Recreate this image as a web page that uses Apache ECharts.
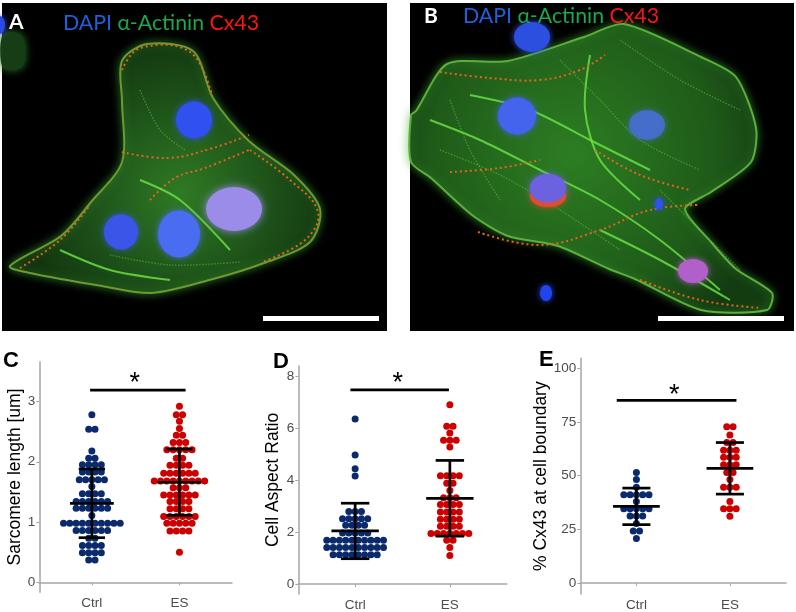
<!DOCTYPE html>
<html>
<head>
<meta charset="utf-8">
<script src="https://cdn.jsdelivr.net/npm/echarts@6/dist/echarts.min.js"></script>
<style>
  html, body { margin: 0; padding: 0; background: #fff; }
  #main { width: 796px; height: 612px; }
</style>
</head>
<body>
<div id="main"></div>
<script>
"use strict"
const groups = ['Ctrl', 'ES'];

// C: sarcomere length, dot rows (value) and dots per row
const sarcCtrlRows   = [2.78, 2.54, 2.18, 2.06, 1.95, 1.83, 1.70, 1.59, 1.47, 1.34, 1.23, 1.11, 0.98, 0.86, 0.73, 0.61, 0.49, 0.37];
const sarcCtrlCounts = [1, 2, 1, 2, 4, 4, 5, 1, 4, 6, 6, 1, 10, 6, 2, 4, 4, 2];
const sarcEsRows     = [2.92, 2.78, 2.67, 2.55, 2.44, 2.32, 2.20, 2.06, 1.94, 1.81, 1.68, 1.57, 1.45, 1.34, 1.22, 1.09, 0.98, 0.85, 0.50];
const sarcEsCounts   = [1, 2, 1, 1, 2, 3, 5, 2, 4, 6, 9, 3, 6, 4, 4, 6, 5, 4, 1];
const sarcMean = [1.31, 1.66];
const sarcSd   = [0.57, 0.55];

// D: cell aspect ratio
const aspectCtrlRows   = [6.37, 4.98, 4.45, 4.17, 2.80, 2.52, 2.27, 1.97, 1.69, 1.41, 1.13];
const aspectCtrlCounts = [1, 1, 1, 1, 3, 5, 4, 5, 10, 10, 8];
const aspectEsRows     = [6.92, 6.09, 5.83, 5.55, 5.29, 4.18, 3.89, 3.61, 3.33, 3.07, 2.78, 2.50, 2.23, 1.95, 1.69, 1.41, 1.10];
const aspectEsCounts   = [1, 2, 1, 3, 1, 4, 2, 1, 3, 4, 4, 4, 4, 7, 2, 1, 1];
const aspectMean = [2.05, 3.31];
const aspectSd   = [1.07, 1.46];

// E: % Cx43 at cell boundary
const cxCtrlRows   = [51.5, 48.2, 44.6, 41.1, 38.0, 34.6, 31.2, 27.7, 24.2, 20.8];
const cxCtrlCounts = [1, 1, 1, 5, 1, 5, 3, 1, 2, 1];
const cxEsRows     = [72.8, 68.9, 65.4, 61.8, 58.5, 55.1, 51.5, 48.2, 44.6, 38.0, 34.6, 31.1];
const cxEsCounts   = [2, 1, 2, 3, 3, 3, 2, 1, 3, 1, 3, 1];
const cxMean = [35.7, 53.4];
const cxSd   = [8.5, 12.0];

// y ticks and significance bars (C, D, E)
const sarcTicks   = [0, 1, 2, 3];
const aspectTicks = [0, 2, 4, 6, 8];
const cxTicks     = [0, 25, 50, 75, 100];
const sigLevel = [3.19, 7.49, 85.0];
const sigFrom  = [0.98, 0.95, 0.79];
const sigTo    = [2.07, 1.99, 2.07];
const starLevel = [3.39, 7.97, 90.0];
const starX     = [1.49, 1.45, 1.405];

const ctrlColor = '#0b2a6c';
const esColor = '#cc0000';
const axisGrey = '#a6a6a6';
const dotStep = 6.3; // px between dot centres in a row

const panels = [
    {name: 'Sarcomere length [um]', rows: [sarcCtrlRows, sarcEsRows], counts: [sarcCtrlCounts, sarcEsCounts],
     mean: sarcMean, sd: sarcSd, ticks: sarcTicks, min: -0.166, max: 3.66, gap: 14,
     grid: {left: 39.3, top: 361.7, width: 192.7, height: 230.6}},
    {name: 'Cell Aspect Ratio', rows: [aspectCtrlRows, aspectEsRows], counts: [aspectCtrlCounts, aspectEsCounts],
     mean: aspectMean, sd: aspectSd, ticks: aspectTicks, min: -0.38, max: 8.41, gap: 16.5,
     grid: {left: 298.3, top: 366, width: 208.4, height: 230}},
    {name: '% Cx43 at cell boundary', rows: [cxCtrlRows, cxEsRows], counts: [cxCtrlCounts, cxEsCounts],
     mean: cxMean, sd: cxSd, ticks: cxTicks, min: -5.08, max: 104.6, gap: 24,
     grid: {left: 580.3, top: 358.3, width: 205.7, height: 237.7}}
];

// centred dot stacks (like geom_dotplot stackdir = "center")
function swarm(rows, counts, g, pxPerUnit) {
    let pts = [];
    rows.forEach(function (v, r) {
        let n = counts[r];
        for (let i = 0; i < n; i++) {
            pts.push([g + 1 + (i - (n - 1) / 2) * dotStep / pxPerUnit, v]);
        }
    });
    return pts;
}

function renderErr(params, api) {
    let x = api.value(0), m = api.value(1), s = api.value(2);
    let style = {stroke: '#000', lineWidth: 2.7};
    let seg = function (a, b) {
        return {type: 'line', shape: {x1: a[0], y1: a[1], x2: b[0], y2: b[1]}, style: style};
    };
    return {type: 'group', children: [
        seg(api.coord([x, m + s]), api.coord([x, m - s])),
        seg(api.coord([x - 0.15, m + s]), api.coord([x + 0.15, m + s])),
        seg(api.coord([x - 0.15, m - s]), api.coord([x + 0.15, m - s])),
        seg(api.coord([x - 0.25, m]), api.coord([x + 0.25, m]))
    ]};
}

function renderSig(params, api) {
    let a = api.coord([api.value(0), api.value(2)]);
    let b = api.coord([api.value(1), api.value(2)]);
    let s = api.coord([api.value(3), api.value(4)]);
    return {type: 'group', children: [
        {type: 'line', shape: {x1: a[0], y1: a[1], x2: b[0], y2: b[1]}, style: {stroke: '#000', lineWidth: 2.7}},
        {type: 'text', style: {text: '*', x: s[0], y: s[1] + 6, align: 'center', verticalAlign: 'middle',
            font: '27px "Liberation Sans", Arial', fill: '#000'}}
    ]};
}

let grids = [], xAxes = [], yAxes = [], series = [];
panels.forEach(function (p, k) {
    grids.push(p.grid);
    xAxes.push({
        type: 'value', gridIndex: k, min: 0.4, max: 2.6,
        axisLine: {show: true, lineStyle: {color: axisGrey, width: 1.5}},
        axisTick: {show: true, length: 3, customValues: [1, 2], lineStyle: {color: axisGrey}},
        axisLabel: {customValues: [1, 2], margin: 4, color: '#4d4d4d', fontSize: 13.5, fontFamily: '"Liberation Sans", Arial',
            formatter: function (v) { return groups[Math.round(v) - 1]; }},
        splitLine: {show: false}
    });
    yAxes.push({
        type: 'value', gridIndex: k, min: p.min, max: p.max,
        name: p.name, nameLocation: 'middle', nameGap: p.gap, nameRotate: 90,
        nameTextStyle: {color: '#000', fontSize: 17.5, fontFamily: '"Liberation Sans", Arial'},
        axisLine: {show: true, lineStyle: {color: axisGrey, width: 1.5}},
        axisTick: {show: true, length: 3, customValues: p.ticks, lineStyle: {color: axisGrey}},
        axisLabel: {customValues: p.ticks, margin: 4, color: '#4d4d4d', fontSize: 13.5, fontFamily: '"Liberation Sans", Arial'},
        splitLine: {show: false}
    });
    let pxPerUnit = p.grid.width / 2.2;
    [0, 1].forEach(function (g) {
        series.push({
            type: 'scatter', xAxisIndex: k, yAxisIndex: k, symbolSize: 7, silent: true,
            itemStyle: {color: g === 0 ? ctrlColor : esColor, opacity: 1},
            data: swarm(p.rows[g], p.counts[g], g, pxPerUnit)
        });
    });
    series.push({
        type: 'custom', xAxisIndex: k, yAxisIndex: k, renderItem: renderErr, z: 5,
        data: [[1, p.mean[0], p.sd[0]], [2, p.mean[1], p.sd[1]]]
    });
    series.push({
        type: 'custom', xAxisIndex: k, yAxisIndex: k, renderItem: renderSig, z: 5,
        data: [[sigFrom[k], sigTo[k], sigLevel[k], starX[k], starLevel[k]]]
    });
});

// micrographs, drawn as a rough sketch
function nucleus(cx, cy, rx, ry, color, blur) {
    return {type: 'circle', x: cx, y: cy, scaleX: rx / ry, shape: {cx: 0, cy: 0, r: ry},
        style: {fill: color, shadowBlur: blur || 6, shadowColor: color}};
}
function boundary(points) {
    return {type: 'polyline', shape: {points: points, smooth: 0.4},
        style: {stroke: '#e8641e', lineWidth: 2, lineDash: [2, 3], fill: null}};
}
function fibre(points, bright) {
    return {type: 'polyline', shape: {points: points, smooth: 0.3},
        style: {stroke: bright ? 'rgba(110,230,70,0.8)' : 'rgba(90,190,60,0.55)', lineWidth: bright ? 2 : 1.4,
            lineDash: bright ? null : [1.5, 1.5], fill: null}};
}
const cellFill = {type: 'radial', x: 0.55, y: 0.6, r: 0.65,
    colorStops: [{offset: 0, color: '#2f7a24'}, {offset: 0.6, color: '#1c4e18'}, {offset: 1, color: '#12330f'}]};
const cellFillB = {type: 'radial', x: 0.45, y: 0.45, r: 0.7,
    colorStops: [{offset: 0, color: '#2c7e22'}, {offset: 0.7, color: '#1f5a19'}, {offset: 1, color: '#143c12'}]};

let micro = [
    {type: 'rect', shape: {x: 2, y: 3, width: 385, height: 328}, style: {fill: '#000'}},
    {type: 'rect', shape: {x: 410, y: 3, width: 384, height: 328}, style: {fill: '#000'}},
    {type: 'polygon', shape: {points: [[3, 34], [22, 36], [23, 66], [3, 68]], smooth: 0.3},
        style: {fill: '#173d14', shadowBlur: 8, shadowColor: '#2d7a25'}},
    {type: 'polygon', shape: {points: [[122, 61], [147, 44], [193, 51], [213, 98], [249, 141], [294, 175], [320, 209],
        [310, 242], [264, 263], [213, 279], [152, 293], [102, 286], [30, 273], [10, 266], [61, 236], [91, 202],
        [122, 162], [122, 101]], smooth: 0.3},
        style: {fill: cellFill, stroke: '#6a9a30', lineWidth: 2, shadowBlur: 10, shadowColor: 'rgba(70,170,60,0.6)'}},
    boundary([[122, 152], [168, 158], [213, 148], [249, 135]]),
    boundary([[150, 200], [175, 178], [205, 168], [249, 150]]),
    boundary([[122, 70], [140, 48], [190, 52], [212, 96]]),
    boundary([[250, 150], [290, 180], [318, 212], [305, 240], [262, 262]]),
    boundary([[20, 268], [60, 240], [90, 205]]),
    fibre([[140, 180], [180, 200], [230, 250]], true),
    fibre([[110, 255], [170, 265], [240, 262]]),
    fibre([[140, 90], [160, 130], [185, 150]]),
    fibre([[60, 250], [110, 270], [170, 280]], true),
    nucleus(194, 120, 18, 18.5, '#3050f0'),
    nucleus(234, 209, 28, 22, '#9a8ce8', 8),
    nucleus(179, 234, 21, 23.5, '#4a6cf0'),
    nucleus(121, 232, 17, 17.5, '#3a55e8'),
    nucleus(0, 25, 5, 9, '#2a4ae0'),
    {type: 'polygon', shape: {points: [[416, 111], [447, 64], [508, 61], [584, 37], [624, 24], [701, 57], [736, 77],
        [756, 128], [751, 162], [711, 192], [685, 209], [711, 242], [736, 269], [772, 293], [767, 310], [701, 310],
        [635, 279], [609, 269], [558, 246], [508, 236], [472, 215], [431, 178], [411, 162], [411, 115]], smooth: 0.25},
        style: {fill: cellFillB, stroke: '#5cb03a', lineWidth: 2, shadowBlur: 10, shadowColor: 'rgba(70,180,60,0.6)'}},
    fibre([[430, 120], [480, 140], [540, 170], [600, 200], [660, 240], [720, 290]], true),
    fibre([[440, 150], [500, 175], [560, 210], [620, 250]]),
    fibre([[470, 95], [530, 110], [590, 140], [650, 170]], true),
    fibre([[560, 60], [600, 100], [640, 140], [700, 170]]),
    fibre([[620, 40], [680, 80], [740, 110]]),
    fibre([[600, 230], [660, 260], [730, 300]], true),
    fibre([[590, 55], [585, 110], [600, 160], [640, 200]], true),
    fibre([[450, 100], [470, 150], [500, 200]]),
    fibre([[660, 190], [700, 230], [740, 270]]),
    boundary([[440, 72], [490, 78], [540, 80], [580, 70], [605, 55]]),
    boundary([[450, 172], [500, 168], [540, 160]]),
    boundary([[478, 232], [540, 245], [600, 230], [650, 210], [700, 205]]),
    boundary([[595, 150], [640, 175], [690, 190]]),
    boundary([[640, 280], [700, 300], [760, 308]]),
    nucleus(532, 37, 18, 15, '#2d4fe0'),
    nucleus(517, 116, 19, 18.5, '#4464ee'),
    nucleus(647, 125, 18, 15, 'rgba(70,110,210,0.85)'),
    nucleus(548, 196, 18, 11, 'rgba(255,70,20,0.9)'),
    nucleus(548, 188, 18, 14, '#6c62e0'),
    nucleus(693, 271, 15, 12, '#b060c8'),
    nucleus(546, 293, 6, 8, '#2244ee'),
    nucleus(659, 204, 4, 6, '#3050f0'),
    {type: 'rect', shape: {x: 263, y: 316, width: 116, height: 5}, style: {fill: '#fff'}},
    {type: 'rect', shape: {x: 658, y: 316, width: 126, height: 5}, style: {fill: '#fff'}},
    {type: 'text', x: 9, y: 22, style: {text: 'A', fill: '#fff', font: 'bold 21px Lato, "Open Sans"', verticalAlign: 'middle'}},
    {type: 'text', x: 424, y: 16, style: {text: 'B', fill: '#fff', font: 'bold 21px Lato, "Open Sans"', verticalAlign: 'middle'}}
];
const stainRich = {
    b: {fill: '#1d5fdc', font: '21.3px Lato'},
    g: {fill: '#1da84a', font: '21.3px Lato'},
    r: {fill: '#ff1414', font: '21.3px Lato'}
};
micro.push({type: 'text', x: 63, y: 23, style: {text: '{b|DAPI} {g|α-Actinin} {r|Cx43}', rich: stainRich, font: '21.3px Lato', verticalAlign: 'middle'}});
micro.push({type: 'text', x: 463, y: 16, style: {text: '{b|DAPI} {g|α-Actinin} {r|Cx43}', rich: stainRich, font: '21.3px Lato', verticalAlign: 'middle'}});

// panel letters of the plots
[['C', 3, 360.5], ['D', 273, 361.5], ['E', 539, 360]].forEach(function (l) {
    micro.push({type: 'text', x: l[1], y: l[2], style: {text: l[0], fill: '#000',
        font: 'bold 22px "Liberation Sans", Arial', verticalAlign: 'middle'}});
});

let chart = echarts.init(document.getElementById('main'));
chart.setOption({
    animation: false,
    backgroundColor: '#fff',
    graphic: {elements: micro},
    grid: grids,
    xAxis: xAxes,
    yAxis: yAxes,
    series: series
});
</script>
</body>
</html>
